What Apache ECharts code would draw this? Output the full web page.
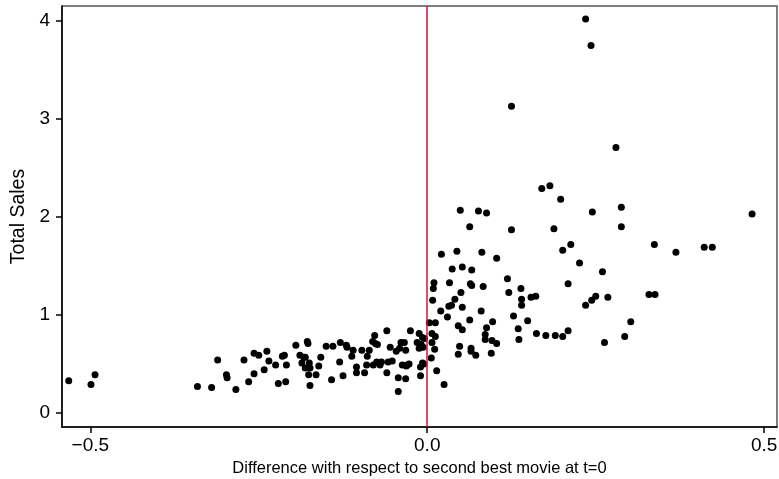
<!DOCTYPE html>
<html>
<head>
<meta charset="utf-8">
<script src="https://cdn.jsdelivr.net/npm/echarts@6/dist/echarts.min.js"></script>
<style>
  html, body { margin: 0; padding: 0; background: #fff; }
  #main { width: 779px; height: 479px; }
</style>
</head>
<body>
<div id="main"></div>
<script>
// difference with respect to second best movie at t=0
const diffX = [
  -0.532, -0.499, -0.493,
  -0.341, -0.320, -0.311, -0.298, -0.297, -0.284, -0.272, -0.265, -0.257, -0.257,
  -0.250, -0.242, -0.238, -0.235, -0.225, -0.221, -0.215, -0.212, -0.210, -0.209,
  -0.195, -0.189, -0.186, -0.183, -0.181, -0.181, -0.178, -0.177, -0.176, -0.174,
  -0.174, -0.175, -0.165, -0.161, -0.158, -0.150, -0.142, -0.140, -0.130, -0.129,
  -0.125, -0.120, -0.119, -0.112, -0.110, -0.105, -0.105, -0.097, -0.093, -0.090,
  -0.089, -0.086, -0.081, -0.080, -0.078, -0.077, -0.075, -0.074, -0.070, -0.068,
  -0.060, -0.060, -0.058, -0.055, -0.052, -0.046, -0.043, -0.043, -0.041, -0.039,
  -0.037, -0.034, -0.032, -0.032, -0.031, -0.030, -0.027, -0.025, -0.015, -0.012,
  -0.012, -0.010, -0.010, -0.009, -0.007, -0.007, -0.006, -0.005, -0.004,
  0.003, 0.006, 0.007, 0.007, 0.008, 0.009, 0.010, 0.011, 0.012, 0.012, 0.014,
  0.020, 0.021, 0.025, 0.030, 0.032, 0.033, 0.036, 0.037, 0.041, 0.044, 0.046,
  0.046, 0.048, 0.049, 0.050, 0.052, 0.052, 0.052, 0.063, 0.063, 0.064, 0.065,
  0.065, 0.066, 0.066, 0.072, 0.076, 0.080, 0.081, 0.083, 0.086, 0.086, 0.088,
  0.088, 0.095, 0.096, 0.097, 0.103, 0.103, 0.119, 0.121, 0.125, 0.125, 0.128,
  0.135, 0.136, 0.139, 0.140, 0.140, 0.149, 0.154, 0.161, 0.162, 0.170, 0.176,
  0.182, 0.188, 0.190, 0.198, 0.201, 0.201, 0.209, 0.209, 0.213, 0.226, 0.235,
  0.235, 0.243, 0.244, 0.245, 0.250, 0.260, 0.263, 0.268, 0.280, 0.288, 0.288,
  0.293, 0.302, 0.329, 0.338, 0.337, 0.369, 0.411, 0.423, 0.482
];
// total sales
const sales = [
  0.33, 0.29, 0.39,
  0.27, 0.26, 0.54, 0.39, 0.36, 0.24, 0.54, 0.32, 0.40, 0.61,
  0.59, 0.44, 0.63, 0.53, 0.49, 0.30, 0.58, 0.59, 0.32, 0.49,
  0.69, 0.59, 0.51, 0.57, 0.57, 0.46, 0.73, 0.71, 0.39, 0.46,
  0.28, 0.51, 0.39, 0.48, 0.57, 0.68, 0.34, 0.68, 0.52, 0.72,
  0.38, 0.69, 0.67, 0.58, 0.64, 0.41, 0.47, 0.64, 0.41, 0.49,
  0.58, 0.64, 0.73, 0.49, 0.79, 0.71, 0.52, 0.70, 0.49, 0.52,
  0.84, 0.41, 0.52, 0.67, 0.53, 0.63, 0.36, 0.22, 0.66, 0.72,
  0.49, 0.72, 0.64, 0.35, 0.48, 0.49, 0.50, 0.84, 0.72, 0.81,
  0.66, 0.47, 0.38, 0.70, 0.51, 0.77, 0.67, 0.50, 0.76,
  0.92, 0.56, 0.81, 0.72, 1.15, 1.27, 1.33, 0.65, 0.92, 0.78, 0.43,
  1.04, 1.62, 0.29, 0.98, 1.09, 1.33, 1.10, 1.47, 1.16, 1.65, 0.89,
  0.60, 0.68, 2.07, 1.23, 1.49, 1.08, 0.85, 1.90, 0.95, 1.32, 0.66,
  0.63, 1.46, 1.30, 0.59, 2.06, 1.04, 1.64, 1.29, 0.80, 0.75, 2.04,
  0.87, 0.61, 0.74, 0.93, 1.58, 0.71, 1.37, 1.23, 1.87, 3.13, 0.99,
  0.86, 0.75, 1.27, 1.16, 1.10, 0.94, 1.18, 1.19, 0.81, 2.29, 0.79,
  2.32, 1.88, 0.79, 2.18, 1.66, 0.78, 1.32, 0.84, 1.72, 1.53, 4.02,
  1.10, 3.75, 1.15, 2.05, 1.19, 1.44, 0.72, 1.18, 2.71, 2.10, 1.90,
  0.78, 0.93, 1.21, 1.21, 1.72, 1.64, 1.69, 1.69, 2.03
];
const xTicks = [-0.5, 0, 0.5];
const yTicks = [0, 1, 2, 3, 4];

const points = diffX.map((x, i) => [x, sales[i]]);

const chart = echarts.init(document.getElementById("main"));
const font = "Liberation Sans, Arial, sans-serif";

chart.setOption({
  animation: false,
  grid: {
    left: 62,
    right: 2,
    top: 6,
    bottom: 52,
    outerBoundsMode: "none",
    containLabel: false,
    show: true,
    borderColor: "#555",
    borderWidth: 1.5,
  },
  xAxis: {
    type: "value",
    min: -0.542,
    max: 0.519,
    name: "Difference with respect to second best movie at t=0",
    nameLocation: "middle",
    nameGap: 32,
    nameTextStyle: { fontFamily: font, fontSize: 16.5, color: "#000" },
    splitLine: { show: false },
    axisLine: { onZero: false, lineStyle: { color: "#000", width: 1.5 } },
    axisTick: { show: true, length: 6, customValues: xTicks, lineStyle: { color: "#000", width: 1.5 } },
    axisLabel: {
      customValues: xTicks,
      fontFamily: font,
      fontSize: 19,
      color: "#000",
      margin: 9,
      formatter: (v) => (v < 0 ? "\u2212" : "") + Math.abs(v).toFixed(1),
    },
  },
  yAxis: {
    type: "value",
    min: -0.143,
    max: 4.153,
    name: "Total Sales",
    nameLocation: "middle",
    nameGap: 32,
    nameRotate: 90,
    nameTextStyle: { fontFamily: font, fontSize: 19.5, color: "#000" },
    splitLine: { show: false },
    axisLine: { onZero: false, lineStyle: { color: "#000", width: 1.5 } },
    axisTick: { show: true, length: 6, customValues: yTicks, lineStyle: { color: "#000", width: 1.5 } },
    axisLabel: {
      customValues: yTicks,
      fontFamily: font,
      fontSize: 19,
      color: "#000",
      margin: 12,
    },
  },
  series: [
    {
      type: "scatter",
      data: points,
      symbolSize: 7,
      itemStyle: { color: "#000", opacity: 1 },
      markLine: {
        silent: true,
        symbol: "none",
        label: { show: false },
        lineStyle: { color: "#d0103a", width: 1.5, type: "solid" },
        data: [{ xAxis: 0 }],
      },
    },
  ],
});
</script>
</body>
</html>
